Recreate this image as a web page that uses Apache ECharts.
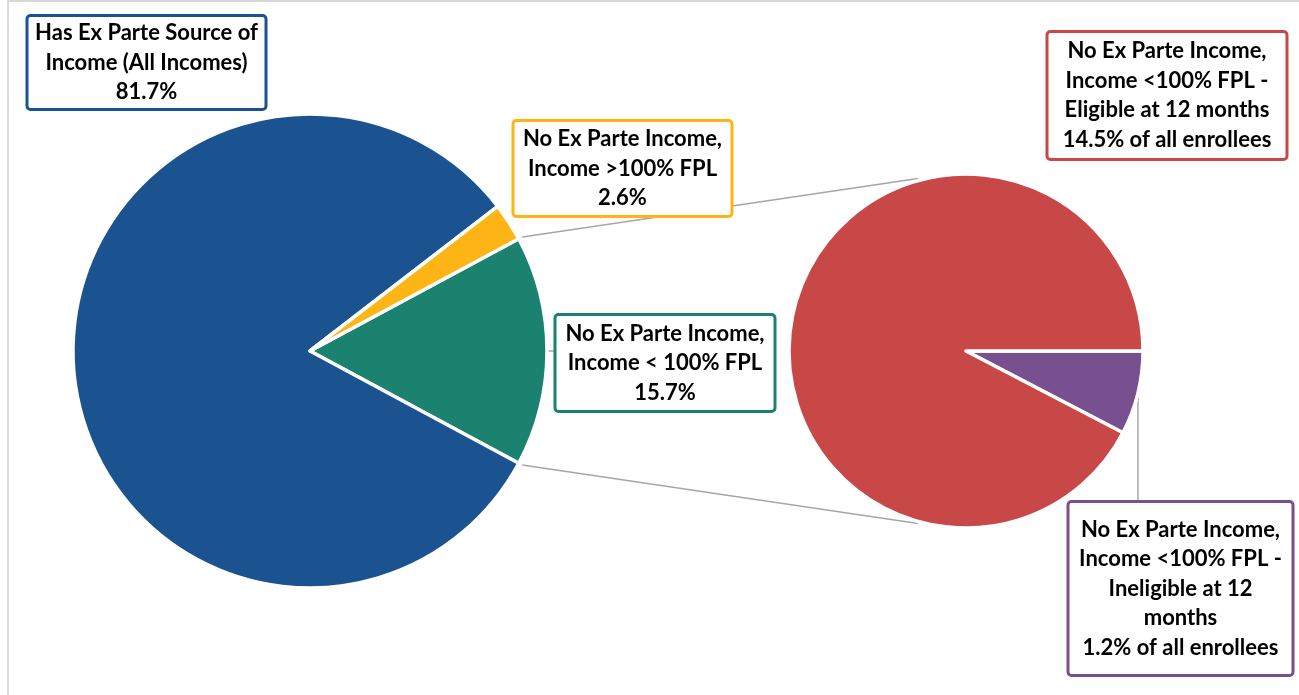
<!DOCTYPE html>
<html><head><meta charset="utf-8">
<script src="https://cdn.jsdelivr.net/npm/echarts@6/dist/echarts.min.js"></script>
<style>html,body{margin:0;padding:0;background:#fff}#c{width:1299px;height:695px}</style>
</head><body><div id="c"></div>
<script>
// ---- data ----
const mainNames = ['No Ex Parte Income,\nIncome < 100% FPL', 'Has Ex Parte Source of\nIncome (All Incomes)', 'No Ex Parte Income,\nIncome >100% FPL'];
const mainValues = [15.7, 81.7, 2.6];
const mainColors = ['#1A826F', '#1B5391', '#FDB515'];
const subNames = ['No Ex Parte Income,\nIncome <100% FPL -\nIneligible at 12\nmonths', 'No Ex Parte Income,\nIncome <100% FPL -\nEligible at 12 months'];
const subValues = [1.2, 14.5];
const subColors = ['#79508F', '#C84848'];

// ---- layout ----
const L = {cx: 310, cy: 351, r: 237};
const R = {cx: 966, cy: 351, r: 177};
const LH = 29.5;
const mainBoxes = [
  {cx: 665, top: 316, w: 220, py: 2.75, line: true},
  {cx: 146.5, top: 17, w: 239, py: 1.25, line: false},
  {cx: 622.5, top: 122, w: 219, py: 2.25, line: false}
];
const subBoxes = [
  {cx: 1180.5, top: 503, w: 225, py: 11.75, line: true},
  {cx: 1167, top: 33, w: 240, py: 3.5, line: false}
];
const mainSum = mainValues.reduce((a, b) => a + b, 0);
const mainStart = mainValues[0] / mainSum * 180;

const baseLabel = {
  position: 'outside', fontFamily: 'Lato', fontWeight: 'bold', fontSize: 22, lineHeight: LH,
  color: '#000', backgroundColor: '#fff', borderWidth: 3, borderRadius: 2, overflow: 'none', align: 'center'
};
function items(names, values, colors, boxes) {
  return values.map((v, i) => ({
    name: names[i], value: v,
    itemStyle: {color: colors[i]},
    label: Object.assign({}, baseLabel, {borderColor: colors[i], width: boxes[i].w - 3 - 4, padding: [boxes[i].py, 2]}),
    labelLine: {show: boxes[i].line, lineStyle: {color: '#A6A6A6', width: 1.5}}
  }));
}
function layoutFn(boxes, vertical) {
  return function (p) {
    const b = boxes[p.dataIndex];
    const res = {x: b.cx, y: b.top, align: 'center', verticalAlign: 'top'};
    if (b.line && p.labelLinePoints) {
      const s = p.labelLinePoints[0];
      res.labelLinePoints = vertical ? [s, [s[0], b.top]] : [s, [b.cx - b.w / 2, s[1]]];
    }
    return res;
  };
}
function rad(d) { return d * Math.PI / 180; }
const connA = rad(mainStart), endA = rad(105.5);
const connectors = [1, -1].map(sg => ({
  type: 'line', z: 0,
  shape: {
    x1: L.cx + (L.r + 4) * Math.cos(connA), y1: L.cy - sg * (L.r + 4) * Math.sin(connA),
    x2: R.cx + (R.r + 2) * Math.cos(endA), y2: R.cy - sg * (R.r + 2) * Math.sin(endA)
  },
  style: {stroke: '#A6A6A6', lineWidth: 1.5}
}));

const chart = echarts.init(document.getElementById('c'), null, {renderer: 'canvas'});
chart.setOption({
  animation: false,
  backgroundColor: '#fff',
  graphic: [
    {type: 'rect', z: 0, shape: {x: 8, y: 1, width: 1320, height: 720}, style: {fill: 'none', stroke: '#D9D9D9', lineWidth: 2}}
  ].concat(connectors),
  series: [
    {
      type: 'pie', center: [L.cx, L.cy], radius: L.r, startAngle: mainStart, clockwise: true,
      itemStyle: {borderColor: '#fff', borderWidth: 3.5}, emphasis: {disabled: true},
      label: {formatter: '{b}\n{c}%'},
      labelLayout: layoutFn(mainBoxes, false),
      data: items(mainNames, mainValues, mainColors, mainBoxes)
    },
    {
      type: 'pie', center: [R.cx, R.cy], radius: R.r, startAngle: 0, clockwise: true,
      itemStyle: {borderColor: '#fff', borderWidth: 3.5}, emphasis: {disabled: true},
      label: {formatter: '{b}\n{c}% of all enrollees'},
      labelLayout: layoutFn(subBoxes, true),
      data: items(subNames, subValues, subColors, subBoxes)
    }
  ]
});
</script></body></html>
